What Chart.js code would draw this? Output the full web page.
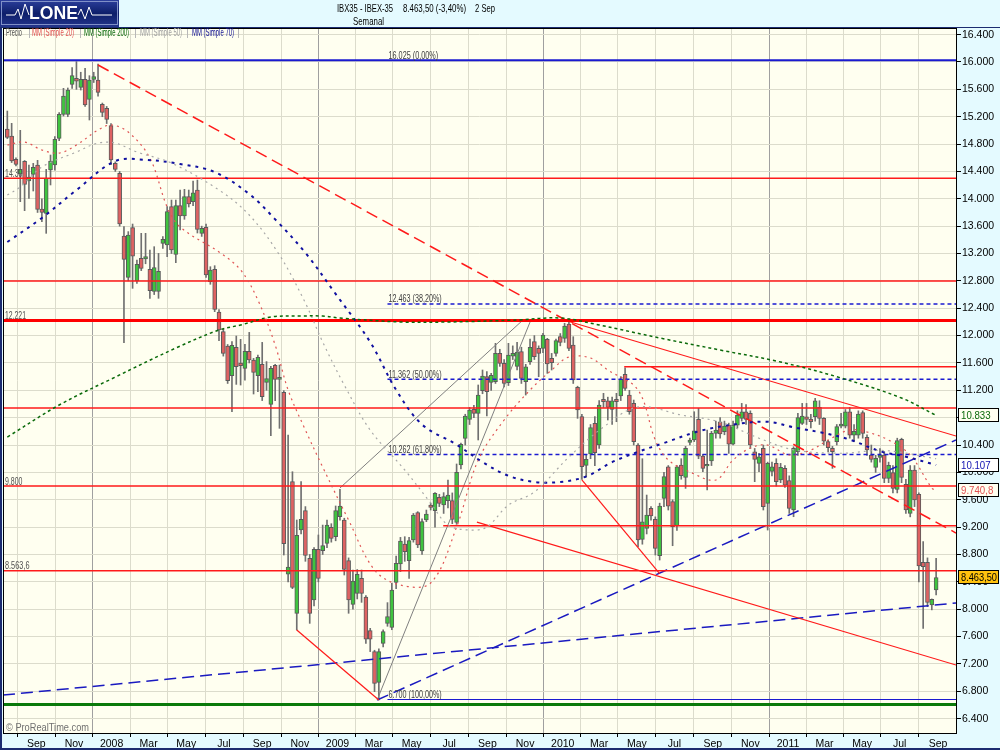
<!DOCTYPE html>
<html><head><meta charset="utf-8">
<script src="https://cdn.jsdelivr.net/npm/chart.js@4.4.1/dist/chart.umd.min.js"></script>
<style>html,body{margin:0;padding:0;background:#E6FBFF;}canvas{display:block}</style>
</head><body>
<canvas id="c" width="1000" height="750"></canvas>
<script>
// ---- categories: weekly candles, Monday of each week starting 16 Jul 2007 ----
const firstWeek = Date.UTC(2007, 6, 16);
const WEEK = 7 * 864e5;

// ---- OHLC (IBEX-35 weekly) ----
const openV = [
15020,14918,14577,14362,14548,14260,14357,14494,13850,13787,
14421,14494,14884,15235,15235,15673,15760,15629,15746,15454,
15746,15737,15381,15322,15069,14518,14372,13456,12852,13578,
12798,13129,13120,12969,12647,12647,13349,13324,13885,13188,
13899,13748,14031,13958,14128,13495,13582,12788,12969,12345,
12057,11848,11414,11828,11600,11521,11770,11643,11414,11580,
11316,10995,11565,11360,11170,8513,9864,7939,9158,9440,
8744,8134,8875,8855,8963,9197,9060,9353,9304,8710,
8071,8232,8451,8178,7686,7379,6931,7501,7793,7735,
8393,8661,8953,8710,9012,9411,8851,9304,9523,9440,
9635,9523,9587,9587,9270,10108,10498,10776,10921,10863,
11195,11400,11317,11326,11740,11594,11312,11700,11550,11765,
11326,11618,11911,11814,11814,11945,11667,11740,11984,11960,
12169,11862,11243,10815,10103,10269,10717,10400,11068,11048,
10922,11068,11117,11433,11131,11010,10400,9021,9181,9474,
9313,8782,9620,10083,9572,9216,10107,9927,10439,10473,
10775,10239,10093,10166,10570,10741,10595,10692,10414,10692,
10790,10887,10863,10302,10132,10351,9547,10015,10132,9889,
10059,9879,9450,10302,10717,10814,10780,10814,10950,10790,
10449,10351,10449,10677,10677,10887,10546,10546,10873,10512,
10254,10074,10220,10254,9913,9996,9752,10483,9825,9401,
10035,9679,8685,8685,8061,8280];
const highV = [
15283,15103,14600,15001,14560,14494,14518,14562,14000,14431,
14640,14908,15260,15615,15620,15917,16005,15850,15907,15800,
15850,15970,15400,15350,15100,14540,14400,13592,13520,13631,
13105,13495,13495,13251,13300,13202,13446,13885,13982,13982,
14128,14138,14128,14260,14274,13600,13631,13007,13022,12380,
12100,11870,11911,11994,11945,11872,12047,11667,11716,11901,
11620,11550,11580,11570,11195,10547,10010,9304,9864,9500,
8800,8900,9085,9230,9304,9250,9509,9752,9330,8750,
8573,8580,8573,8200,7720,7400,7420,7700,8096,8378,
8778,9050,9060,9050,9400,9426,9320,9450,9550,9704,
9680,9704,9889,9700,10123,10430,10850,10950,10980,11278,
11497,11473,11450,11887,11800,11650,11887,11850,11900,11830,
11580,11950,12000,11850,12033,11960,11740,11950,12030,12180,
12222,11984,11260,10850,10250,10700,10815,11050,11156,11100,
11100,11156,11400,11530,11200,11058,10420,10200,9669,9500,
9350,9550,10000,10100,9600,10100,10200,10380,10500,10887,
10936,10260,10619,10600,10750,10800,10750,10720,10750,10900,
11009,10990,10900,10350,10280,10400,10150,10150,10200,10132,
10100,9950,10375,10863,11009,11009,10850,11082,11048,10800,
10470,10380,10700,10863,10920,10950,10700,10900,10900,10550,
10400,10250,10350,10300,10150,10100,10500,10500,9900,10100,
10100,9700,8987,8750,8150,8743];
const lowV = [
14880,14530,14480,13958,13826,14007,14114,13800,13665,13495,
14202,14420,14850,15210,15200,15615,15600,15590,15350,15152,
15700,15500,15200,15100,14500,14400,13600,11896,12800,12691,
12764,12950,13050,12545,12600,12545,13276,13154,13200,13066,
13544,13700,13880,13900,13500,13450,12850,12750,12350,11926,
11700,11300,10888,11287,11277,11350,11600,11146,11180,11050,
11200,10537,11048,10644,8792,8400,8300,7696,9100,8700,
7793,8047,8400,8800,8900,8980,9000,9300,8500,7940,
8000,8150,8100,7500,7380,6794,6673,7450,7750,7700,
8300,8550,8700,8451,8980,8900,8800,9280,9450,9200,
9500,9400,9480,9250,9240,10050,10400,10700,10800,10474,
11150,10824,11200,11300,11550,11250,11270,11650,11500,11300,
11131,11580,11650,11399,11750,11448,11497,11700,11850,11900,
11780,11300,10790,9897,9938,10200,10100,10350,10950,10766,
10700,10741,11050,11200,10850,10400,8914,8950,9100,9300,
8792,8719,9500,9450,8928,9150,9900,9766,10400,10450,
10200,10010,9742,10100,10500,10500,10550,10278,10400,10650,
10750,10700,10350,9864,10010,9450,9157,9950,9800,9850,
9780,9400,9352,10250,10700,10700,10650,10750,10700,10400,
10300,10059,10400,10650,10650,10500,10450,10500,10500,10250,
10150,10000,10150,9850,9850,9700,9700,9850,9400,9350,
9500,8400,7720,8037,7990,8207];
const closeV = [
14898,14553,14504,14431,14211,14318,14460,13846,13800,14299,
14552,14869,15235,15503,15590,15800,15720,15746,15371,15737,
15785,15556,15264,15162,14567,14430,13631,13115,13470,13163,
13042,12983,13154,12657,12993,12939,13407,13812,13251,13899,
13748,14031,13924,14089,13553,13568,12886,12959,12384,12082,
11740,11341,11857,11545,11560,11770,11643,11463,11682,11107,
11370,11521,11360,11389,8958,8616,8320,9080,9314,8787,
7939,8875,8451,8929,9231,9036,9440,9509,8583,8135,
8412,8510,8232,7560,7560,6916,7379,7672,7891,8281,
8671,8997,8841,9002,9377,8939,9280,9392,9489,9694,
9548,9645,9669,9314,10001,10410,10824,10912,10863,11131,
11409,11180,11419,11740,11594,11302,11716,11740,11760,11375,
11545,11828,11692,11740,12009,11585,11604,11926,11901,12140,
11814,11351,10912,10084,10191,10654,10288,10985,11034,10951,
11048,11034,11360,11229,10888,10449,9012,9279,9376,9362,
8889,9508,9937,9508,9206,10083,9952,10351,10473,10609,
10239,10058,10117,10570,10620,10561,10677,10414,10692,10838,
10887,10775,10400,10190,10229,9498,10132,10083,9864,10073,
9815,9474,10351,10800,10824,10775,10740,11048,10790,10458,
10361,10302,10668,10707,10887,10546,10600,10853,10571,10327,
10191,10205,10254,9913,10103,9767,10464,9928,9450,10035,
9596,8631,8622,8100,8144,8463.5];

// ---- moving averages (week index, value) ----
const ma20Week = [0,4,8,12,16,21,24,28,33,37,40,49,54,58,62,65,69,73,79,85,91,98,104,109,115,121,126,130,135,139,146,150,153,158,164,168,172,176,181,186,190,195,199,204,209,214,215];
const ma20Val  = [14786,14830,14713,14669,14786,15006,15079,14976,14596,13880,13587,13222,12959,12520,11862,11204,10619,10078,9303,8573,8353,8383,9201,10181,10766,11204,11497,11687,11672,11497,11204,10473,10181,10006,9889,10181,10356,10400,10254,10327,10473,10620,10590,10473,10254,9771,9740.8];
const ma50Week = [0,3,8,16,21,25,30,38,49,56,63,69,73,78,84,92,98,102,107,111,116,122,130,138,146,156,165,174,182,193,203,215];
const ma50Val  = [14055,14172,14465,14684,14815,14815,14684,14523,14128,13763,13178,12476,11906,11277,10619,10035,9553,9231,9157,9201,9523,9713,10225,10663,10956,10839,10736,10500,10330,10280,10320,10200];
const ma70Week = [0,8,16,25,32,40,48,56,62,69,76,84,90,96,104,110,116,122,128,134,140,146,152,160,168,176,182,189,195,202,208,215];
const ma70Val  = [13368,13720,14128,14552,14570,14508,14391,14070,13700,13210,12609,11905,11206,10700,10406,10150,9950,9860,9860,9940,10150,10300,10430,10600,10700,10740,10660,10575,10480,10310,10230,10107];
const ma200Week = [0,12,25,39,49,54,61,68,73,77,91,102,118,128,137,151,165,179,193,207,215];
const ma200Val  = [10517,10985,11394,11818,12082,12155,12272,12286,12286,12257,12199,12199,12228,12257,12155,11965,11789,11614,11380,11087,10833];

// ---- horizontal levels ----
const redLevels = [14300, 12800, 10940, 9800, 8563.6];
const thickRedLevel = 12221;
const greenLevel = 6607;
const topBlueLevel = 16025;
const fibLevels = [12463, 11362, 10262];
const fibLabels = ['16.025 (0,00%)', '12.463 (38,20%)', '11.362 (50,00%)', '10.262 (61,80%)', '6.700 (100,00%)'];
const fibLabelPrices = [16025, 12463, 11362, 10262, 6680];
const fibStartWeek = 88;
const fibBase = 6680;
const partialRed = [{from: 142.8, p: 11546}, {from: 100.9, p: 9220}];
const leftLabels = ['14.30', '12.221', '9.800', '8.563,6'];
const leftLabelPrices = [14300, 12221, 9800, 8563.6];

// ---- trend lines: [week, price, week, price] ----
const redDashTrend = [21, 15956, 219.6, 9114];
const redTrends = [[129.6, 12213, 219.6, 10532], [108.7, 9274, 219.6, 7184], [67, 7696, 86, 6673], [133, 9890, 151, 8520]];
const grayTrends = [[77, 9772, 119.1, 12213], [85.6, 6672, 121, 12198]];
const blueTrends = [[-1, 6745, 219.6, 8090], [85.6, 6672, 219.6, 10473]];

// ---- axis ticks ----
const monthNames = ['Jan','Feb','Mar','Apr','May','Jun','Jul','Aug','Sep','Oct','Nov','Dec'];
const xTickMonths = [];
for (let y = 2007, m = 8; ; m += 2) { if (m > 11) { m -= 12; y++; } if (y > 2011 || (y === 2011 && m > 8)) break; xTickMonths.push([y, m]); }
const xTickPos = xTickMonths.map(([y, m]) => (Date.UTC(y, m, 1) - firstWeek) / WEEK);
const xTickLabels = xTickMonths.map(([y, m]) => m === 0 ? String(y) : monthNames[m]);
const yTickVals = [];
for (let v = 6400; v <= 16400; v += 200) yTickVals.push(v);

const XMIN = -1.0, XMAX = 219.6;

function fmtK(v, dec) {
  let s = dec ? v.toFixed(dec) : String(Math.round(v));
  let [ip, fp] = s.split('.');
  ip = ip.replace(/\B(?=(\d{3})+(?!\d))/g, '.');
  return ip + (fp ? ',' + fp : '');
}

const idx = openV.map((_, i) => i);
const seg = (a, color, width, dash, order) => ({
  type: 'line', data: [{x: a[0], y: a[1]}, {x: a[2], y: a[3]}], borderColor: color, borderWidth: width,
  borderDash: dash || [], pointRadius: 0, fill: false, order: order || 2
});
const maSet = (w, v, color, width, dash) => ({
  type: 'line', data: w.map((x, i) => ({x, y: v[i]})), borderColor: color, borderWidth: width,
  borderDash: dash, pointRadius: 0, fill: false, tension: 0.35, order: 1
});

const datasets = [];
datasets.push({type: 'bar', data: idx.map(i => ({x: i, y: [lowV[i], highV[i]]})), backgroundColor: '#707070', barThickness: 1, grouped: false, order: 30});
datasets.push({type: 'bar', data: idx.map(i => ({x: i, y: [openV[i], closeV[i]]})),
  backgroundColor: idx.map(i => closeV[i] >= openV[i] ? '#3FC43F' : '#DE6262'),
  borderColor: '#5A5A5A', borderWidth: 1, borderSkipped: false, barThickness: 4, grouped: false, order: 29});
redLevels.forEach(p => datasets.push(seg([XMIN, p, XMAX, p], '#FF1A1A', 1.5)));
datasets.push(seg([XMIN, thickRedLevel, XMAX, thickRedLevel], '#FF0000', 3));
datasets.push(seg([XMIN, greenLevel, XMAX, greenLevel], '#0A7A0A', 3));
datasets.push(seg([XMIN, topBlueLevel, XMAX, topBlueLevel], '#1A1AD0', 2));
fibLevels.forEach(p => datasets.push(seg([fibStartWeek, p, XMAX, p], '#1A1AD0', 1.5, [4, 3])));
datasets.push(seg([fibStartWeek, fibBase, XMAX, fibBase], '#1A1AD0', 1.2));
partialRed.forEach(r => datasets.push(seg([r.from, r.p, XMAX, r.p], '#FF1A1A', 1.5)));
datasets.push(seg(redDashTrend, '#FF1A1A', 1.5, [12, 6]));
redTrends.forEach(t => datasets.push(seg(t, '#FF1A1A', 1.2)));
grayTrends.forEach(t => datasets.push(seg(t, '#808080', 1)));
datasets.push(seg(blueTrends[0], '#1A1AC0', 1.5, [12, 6]));
datasets.push(seg(blueTrends[1], '#1A1AC0', 1.5, [12, 6]));
datasets.push(maSet(ma200Week, ma200Val, '#0A6A0A', 1.5, [3, 3]));
datasets.push(maSet(ma50Week, ma50Val, '#A8A8A8', 1.2, [2, 4]));
datasets.push(maSet(ma70Week, ma70Val, '#1010A0', 2, [3, 5]));
datasets.push(maSet(ma20Week, ma20Val, '#E05555', 1.2, [2, 4]));

const FONT = '"Liberation Sans", Arial, sans-serif';

function fitText(ctx, t, x, y, w) {
  const m = ctx.measureText(t).width;
  ctx.save(); ctx.translate(x, y); ctx.scale(w / m, 1); ctx.fillText(t, 0, 0); ctx.restore();
}

const decor = {
  id: 'decor',
  beforeDraw(chart) {
    const {ctx, chartArea: a} = chart;
    ctx.save();
    ctx.fillStyle = '#E4FAFF'; ctx.fillRect(0, 0, 1000, 750);
    ctx.fillStyle = '#FFFFF0'; ctx.fillRect(a.left, a.top, a.right - a.left, a.bottom - a.top);
    ctx.restore();
  },
  afterDraw(chart) {
    const {ctx, chartArea: a, scales: {x, y}} = chart;
    ctx.save();
    ctx.strokeStyle = '#000'; ctx.lineWidth = 1;
    ctx.strokeRect(a.left + 0.5, a.top + 0.5, a.right - a.left, a.bottom - a.top);
    ctx.strokeStyle = '#1B2B70'; ctx.lineWidth = 2;
    ctx.beginPath(); ctx.moveTo(1, 0); ctx.lineTo(1, 749); ctx.lineTo(1000, 749); ctx.stroke();
    ctx.beginPath(); ctx.moveTo(0, 27.5); ctx.lineTo(1000, 27.5); ctx.lineWidth = 1; ctx.stroke();
    // logo
    const g = ctx.createLinearGradient(0, 0, 0, 27);
    g.addColorStop(0, '#2C3F9C'); g.addColorStop(0.5, '#0D1E6A'); g.addColorStop(1, '#23358C');
    ctx.fillStyle = g; ctx.fillRect(0, 0, 119, 27);
    ctx.strokeStyle = '#8090C8'; ctx.lineWidth = 1; ctx.strokeRect(1.5, 1.5, 116, 23);
    ctx.strokeStyle = '#FFFFFF';
    ctx.beginPath(); ctx.moveTo(6, 15); ctx.lineTo(15, 15); ctx.lineTo(18, 9); ctx.lineTo(21, 19); ctx.lineTo(25, 4); ctx.lineTo(29, 15); ctx.stroke();
    ctx.beginPath(); ctx.moveTo(78, 15); ctx.lineTo(81, 9); ctx.lineTo(85, 19); ctx.lineTo(89, 7); ctx.lineTo(92, 15); ctx.lineTo(112, 15); ctx.stroke();
    const tg = ctx.createLinearGradient(0, 5, 0, 22);
    tg.addColorStop(0, '#FFFFFF'); tg.addColorStop(0.5, '#C8D0E0'); tg.addColorStop(1, '#8A98B8');
    ctx.fillStyle = tg; ctx.font = 'bold 19px ' + FONT; ctx.textBaseline = 'middle'; ctx.textAlign = 'left';
    fitText(ctx, 'LONE', 29, 14, 49);
    // title
    ctx.fillStyle = '#000'; ctx.font = '11px ' + FONT; ctx.textBaseline = 'middle';
    fitText(ctx, 'IBX35 - IBEX-35', 337, 9, 56);
    fitText(ctx, '8.463,50 (-3,40%)', 403, 9, 63);
    fitText(ctx, '2 Sep', 475, 9, 20);
    fitText(ctx, 'Semanal', 353, 22, 31);
    // legend row
    ctx.font = '10px ' + FONT;
    const leg = [['Precio', '#505050', 6, 16], ['MM (Simple 20)', '#E05050', 32, 42], ['MM (Simple 200)', '#0A6A0A', 84, 45], ['MM (Simple 50)', '#A0A0A0', 140, 42], ['MM (Simple 70)', '#101090', 192, 42]];
    leg.forEach(([t, c, px, w]) => { ctx.fillStyle = c; fitText(ctx, t, px, 33.5, w); });
    ctx.strokeStyle = '#B8B8B8'; ctx.lineWidth = 1;
    [29, 80, 135, 187, 238].forEach(px => { ctx.beginPath(); ctx.moveTo(px + 0.5, 29); ctx.lineTo(px + 0.5, 38); ctx.stroke(); });
    // fib labels
    ctx.fillStyle = '#404040'; ctx.font = '10px ' + FONT; ctx.textBaseline = 'alphabetic';
    fibLabels.forEach((t, i) => fitText(ctx, t, x.getPixelForValue(fibStartWeek) + 1, y.getPixelForValue(fibLabelPrices[i]) - 1.5, t.length * 3.55));
    // left labels
    ctx.fillStyle = '#505050';
    leftLabels.forEach((t, i) => fitText(ctx, t, a.left + 2, y.getPixelForValue(leftLabelPrices[i]) - 1.5, t.length * 3.5));
    // copyright
    ctx.fillStyle = '#707070'; ctx.font = '11px ' + FONT;
    fitText(ctx, '\u00A9 ProRealTime.com', 6, 731, 83);
    // right value boxes
    const boxes = [
      [ma200Val[ma200Val.length - 1], fmtK(ma200Val[ma200Val.length - 1]), '#0A6A0A', '#FFFFF0'],
      [ma70Val[ma70Val.length - 1], fmtK(ma70Val[ma70Val.length - 1]), '#1010B0', '#FFFFFF'],
      [ma20Val[ma20Val.length - 1], fmtK(ma20Val[ma20Val.length - 1], 1), '#E05050', '#FFFFF0'],
      [closeV[closeV.length - 1], fmtK(closeV[closeV.length - 1], 2), '#000000', '#FFC20E']
    ];
    ctx.font = '11px ' + FONT; ctx.textBaseline = 'middle'; ctx.textAlign = 'left';
    boxes.forEach(([v, t, col, bg]) => {
      const py = Math.round(y.getPixelForValue(v));
      ctx.fillStyle = bg; ctx.fillRect(958, py - 7, 41, 14);
      ctx.strokeStyle = '#000'; ctx.lineWidth = 1; ctx.strokeRect(958.5, py - 6.5, 40, 13);
      ctx.fillStyle = col; fitText(ctx, t, 961, py + 0.5, Math.min(36, ctx.measureText(t).width * 0.88));
    });
    ctx.restore();
  }
};

new Chart(document.getElementById('c'), {
  type: 'bar',
  data: {datasets},
  options: {
    responsive: false, animation: false, devicePixelRatio: 1,
    layout: {padding: {top: 28, left: 3, right: 0, bottom: 0}},
    plugins: {legend: {display: false}, tooltip: {enabled: false}},
    scales: {
      x: {type: 'linear', min: XMIN, max: XMAX, offset: false,
        afterBuildTicks: s => { s.ticks = xTickPos.map(v => ({value: v})); },
        afterFit: s => { s.height = 17; },
        ticks: {autoSkip: false, maxRotation: 0, minRotation: 0, padding: 1, color: '#000', font: {family: FONT, size: 10.5},
          callback: (v, i) => xTickLabels[i]},
        grid: {color: c => (c.index !== undefined && /^\d{4}$/.test(xTickLabels[c.index] || '')) ? '#A0A0A0' : '#DCDCCC',
          tickColor: '#000', tickLength: 4, drawTicks: true},
        border: {display: true, color: '#000'}},
      y: {type: 'linear', position: 'right', min: 6190, max: 16497,
        afterBuildTicks: s => { s.ticks = yTickVals.map(v => ({value: v})); },
        afterFit: s => { s.width = 44; },
        ticks: {padding: 1, color: '#000', font: {family: FONT, size: 10.5}, callback: v => fmtK(v)},
        grid: {color: '#DCDCCC', tickColor: '#000', tickLength: 5},
        border: {display: true, color: '#000'}}
    }
  },
  plugins: [decor]
});
</script>
</body></html>
